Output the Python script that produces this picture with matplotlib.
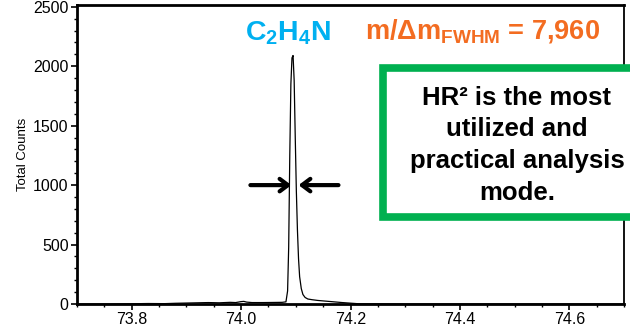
import matplotlib
matplotlib.use("Agg")
import matplotlib.pyplot as plt
from matplotlib.patches import Rectangle
from matplotlib.ticker import MultipleLocator

plt.rcParams['font.family'] = ['Liberation Sans', 'DejaVu Sans']
plt.rcParams['mathtext.fontset'] = 'custom'
plt.rcParams['mathtext.rm'] = 'Liberation Sans'
plt.rcParams['mathtext.bf'] = 'Liberation Sans:bold'
plt.rcParams['mathtext.default'] = 'bf'

# Mass spectrum trace (m/z, total counts)
mz = [73.700, 73.760, 73.800, 73.830, 73.860, 73.880, 73.900, 73.920, 73.940,
      73.960, 73.980, 73.990, 74.000, 74.005, 74.010, 74.020, 74.040, 74.060,
      74.075, 74.082, 74.085, 74.087, 74.089, 74.091, 74.093, 74.095, 74.097,
      74.099, 74.101, 74.103, 74.105, 74.107, 74.110, 74.113, 74.117, 74.122,
      74.130, 74.140, 74.155, 74.170, 74.185, 74.200, 74.215, 74.300, 74.700]
counts = [0, 0, 2, 4, 3, 6, 8, 10, 12,
          10, 14, 12, 20, 22, 16, 12, 12, 13,
          14, 18, 110, 480, 1250, 1850, 2070, 2090, 1880,
          1400, 950, 620, 380, 230, 130, 80, 55, 42,
          36, 30, 24, 18, 12, 7, 2, 0, 0]

x_ticks = [73.8, 74.0, 74.2, 74.4, 74.6]
y_ticks = [0, 500, 1000, 1500, 2000, 2500]

# FWHM marker height and arrow tips
fwhm_level = 1000
left_arrow = (74.017, 74.092)
right_arrow = (74.178, 74.105)

species = r"C$_\mathbf{2}$H$_\mathbf{4}$N"
resolution = r"m/$\Delta$m$_\mathbf{FWHM}$ = 7,960"
note_lines = ["HR² is the most", "utilized and",
              "practical analysis", "mode."]

fig = plt.figure(figsize=(6.3, 3.29), dpi=100)
ax = fig.add_axes([77/630, 1 - 304/329, (624 - 77)/630, (304 - 5)/329])

ax.plot(mz, counts, color='black', lw=0.9)
ax.set_xlim(73.7, 74.7)
ax.set_ylim(0, 2515)
ax.set_xticks(x_ticks)
ax.set_xticklabels([f"{v:.1f}" for v in x_ticks])
ax.set_yticks(y_ticks)
ax.xaxis.set_minor_locator(MultipleLocator(0.05))
ax.yaxis.set_minor_locator(MultipleLocator(100))
ax.tick_params(axis='both', which='major', direction='out', length=4,
               width=1.2, labelsize=11.5, pad=2)
ax.tick_params(axis='both', which='minor', direction='out', length=2, width=1)
for side in ['left', 'bottom', 'top']:
    ax.spines[side].set_linewidth(2)
ax.spines['right'].set_linewidth(1.3)
ax.set_ylabel("Total Counts", fontsize=9.5, labelpad=3)

arrow_kw = dict(arrowstyle='->,head_length=0.6,head_width=0.45', lw=3,
                color='black', shrinkA=0, shrinkB=0)
ax.annotate("", xy=(left_arrow[1], fwhm_level), xytext=(left_arrow[0], fwhm_level),
            arrowprops=arrow_kw)
ax.annotate("", xy=(right_arrow[1], fwhm_level), xytext=(right_arrow[0], fwhm_level),
            arrowprops=arrow_kw)

fig.text(288/630, 1 - 33/329, species, color='#00B0F0', fontsize=20.5,
         fontweight='bold', ha='center', va='center')
fig.text(483/630, 1 - 31/329, resolution, color='#F36C21', fontsize=19.5,
         fontweight='bold', ha='center', va='center')

box = Rectangle((383/630, 1 - 217/329), 260/630, 149/329,
                transform=fig.transFigure, facecolor='white',
                edgecolor='#00B050', lw=5.5, clip_on=False)
fig.patches.append(box)
for i, line in enumerate(note_lines):
    fig.text(517/630, 1 - (98 + 31.5 * i)/329, line, color='black',
             fontsize=18.5, fontweight='bold', ha='center', va='center')

fig.savefig("out.png", dpi=100)
